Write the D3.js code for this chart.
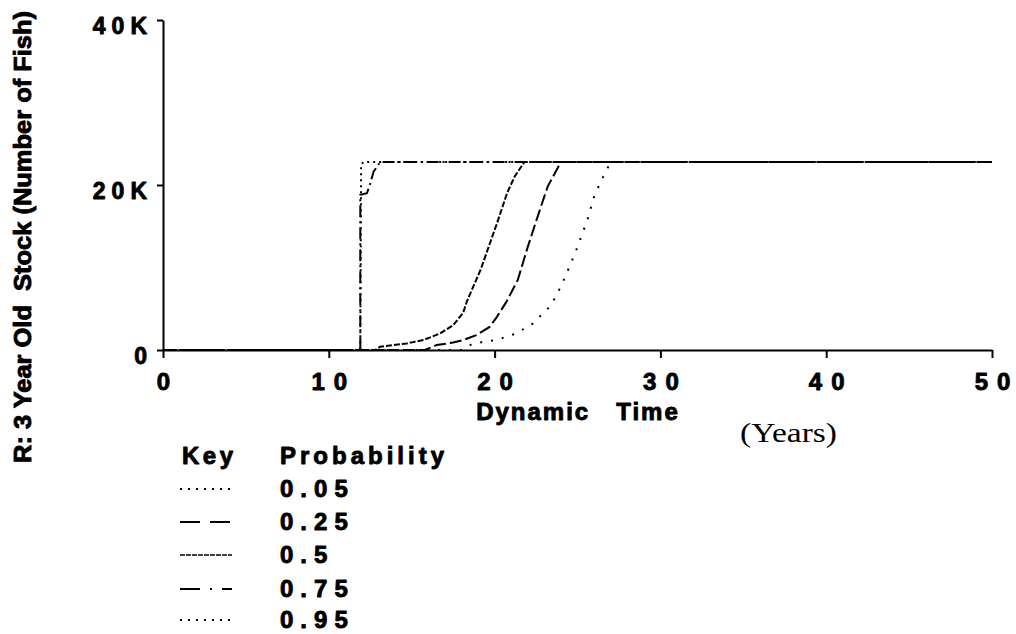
<!DOCTYPE html>
<html>
<head>
<meta charset="utf-8">
<script src="https://cdn.jsdelivr.net/npm/d3@7"></script>
<style>
  html, body { margin: 0; padding: 0; background: #fff; }
  svg { display: block; }
  text { font-family: "Liberation Sans", Arial, Helvetica, sans-serif; font-weight: bold; fill: #000; }
  text.heavy { stroke: #000; stroke-width: 0.9px; stroke-linejoin: round; }
</style>
</head>
<body>
<svg id="chart" width="1016" height="634"></svg>
<script>
// ---- data ----
const xTicks = [0, 10, 20, 30, 40, 50];
const xTickLabels = ["0", "10", "20", "30", "40", "50"];
const yTicks = [0, 20000, 40000];
const yTickLabels = ["0", "20K", "40K"];

const probabilities = ["0.05", "0.25", "0.5", "0.75", "0.95"];

const p05Years = [0, 18.0, 18.7, 20.1, 21.3, 22.3, 23.4, 24.0, 24.6, 25.0, 25.6, 26.0, 26.4, 26.9, 27.1, 50];
const p05Stock = [0, 0, 800, 1200, 2000, 3200, 5400, 7700, 10500, 12500, 15800, 18600, 20400, 22400, 22800, 22800];

const p25Years = [0, 15.8, 16.5, 17.5, 18.1, 18.9, 19.7, 20.1, 20.7, 21.4, 22.0, 22.6, 23.2, 24.0, 50];
const p25Stock = [0, 0, 600, 900, 1200, 1800, 2800, 3900, 5800, 8500, 12500, 16200, 19800, 22800, 22800];

const p50Years = [0, 12.8, 13.1, 14.7, 15.7, 16.7, 17.5, 18.1, 18.35, 19.15, 20.15, 20.75, 21.2, 21.8, 50];
const p50Stock = [0, 0, 400, 800, 1200, 2000, 3000, 4500, 6000, 9700, 15400, 19000, 21000, 22800, 22800];

const p75Years = [0, 11.9, 11.9, 12.3, 12.5, 12.7, 13.1, 50];
const p75Stock = [0, 0, 18800, 19000, 20200, 21600, 22800, 22800];

const p95Years = [0, 11.9, 11.95, 12.1, 50];
const p95Stock = [0, 0, 22500, 22800, 22800];

const seriesYears = [p05Years, p25Years, p50Years, p75Years, p95Years];
const seriesStock = [p05Stock, p25Stock, p50Stock, p75Stock, p95Stock];

// ---- styles ----
const plotDash = ["2,9", "12,4", "6,2", "12,4,2,4", "2,4"];
const legendDash = ["2,6", "20,10", "5,1", "20,10,2,10", "2,6"];

// letter-spaced text without trailing space after the last glyph
function spaced(sel, str, ls) {
  sel.text(null);
  if (str.length > 1) sel.append("tspan").style("letter-spacing", ls + "px").text(str.slice(0, -1));
  sel.append("tspan").text(str.slice(-1));
}

// ---- drawing ----
const svg = d3.select("#chart");
const x = d3.scaleLinear().domain([0, 50]).range([163, 992]);
const y = d3.scaleLinear().domain([0, 40000]).range([350, 20]);

// curves
const line = d3.line().x(d => x(d[0])).y(d => y(d[1]));
seriesYears.forEach((yrs, i) => {
  const pts = yrs.map((t, j) => [t, seriesStock[i][j]]);
  svg.append("path")
    .attr("d", line(pts))
    .attr("fill", "none")
    .attr("stroke", "#000")
    .attr("stroke-width", 2)
    .attr("stroke-dasharray", plotDash[i]);
});

// y axis
const yAxis = svg.append("g")
  .attr("transform", "translate(163,0)")
  .call(d3.axisLeft(y).tickValues(yTicks).tickFormat((d, i) => yTickLabels[i]).tickSize(6).tickSizeOuter(0));
yAxis.attr("font-family", null).attr("font-size", null);
yAxis.select(".domain").attr("stroke-width", 2);
yAxis.selectAll(".tick line").attr("stroke-width", 2);
yAxis.selectAll(".tick text")
  .attr("class", "heavy")
  .attr("x", -16).attr("dy", 13.5)
  .style("font-size", "23px")
  .each(function(d, i) { spaced(d3.select(this), yTickLabels[yTicks.indexOf(d)], 6); });

// x axis
const xAxis = svg.append("g")
  .attr("transform", "translate(0,350)")
  .call(d3.axisBottom(x).tickValues(xTicks).tickFormat((d, i) => xTickLabels[i]).tickSize(8).tickSizeOuter(0));
xAxis.attr("font-family", null).attr("font-size", null);
xAxis.select(".domain").attr("stroke-width", 2);
xAxis.selectAll(".tick line").attr("stroke-width", 2);
xAxis.selectAll(".tick text")
  .attr("class", "heavy")
  .attr("y", 40).attr("dy", 0)
  .style("font-size", "24px")
  .each(function(d) { spaced(d3.select(this), xTickLabels[xTicks.indexOf(d)], 9); });

// axis titles
const xt = svg.append("text")
  .attr("class", "heavy")
  .attr("x", 577).attr("y", 420)
  .attr("text-anchor", "middle")
  .style("font-size", "24px").style("white-space", "pre");
spaced(xt, "Dynamic   Time", 2);

svg.append("text")
  .attr("x", 740).attr("y", 442)
  .style("font-family", '"Liberation Serif", "Times New Roman", serif')
  .style("font-weight", "normal")
  .style("font-size", "28px")
  .attr("textLength", 97).attr("lengthAdjust", "spacingAndGlyphs")
  .text("(Years)");

svg.append("text")
  .attr("class", "heavy")
  .attr("transform", "translate(31,237) rotate(-90)")
  .attr("text-anchor", "middle")
  .style("font-size", "24px").style("white-space", "pre")
  .attr("textLength", 452).attr("lengthAdjust", "spacingAndGlyphs")
  .text("R: 3 Year Old  Stock (Number of Fish)");

// legend
spaced(svg.append("text").attr("class", "heavy").attr("x", 182).attr("y", 464).style("font-size", "24px"), "Key", 3.5);
spaced(svg.append("text").attr("class", "heavy").attr("x", 280).attr("y", 464).style("font-size", "24px"), "Probability", 4);

const rowBase = [497, 530, 563, 597, 628];
probabilities.forEach((p, i) => {
  svg.append("line")
    .attr("x1", 180).attr("x2", 232)
    .attr("y1", rowBase[i] - 8).attr("y2", rowBase[i] - 8)
    .attr("stroke", "#000")
    .attr("stroke-width", i === 2 ? 1.5 : 2)
    .attr("stroke-dasharray", legendDash[i]);
  spaced(svg.append("text").attr("class", "heavy").attr("x", 280).attr("y", rowBase[i]).style("font-size", "24px"), p, 7);
});
</script>
</body>
</html>
